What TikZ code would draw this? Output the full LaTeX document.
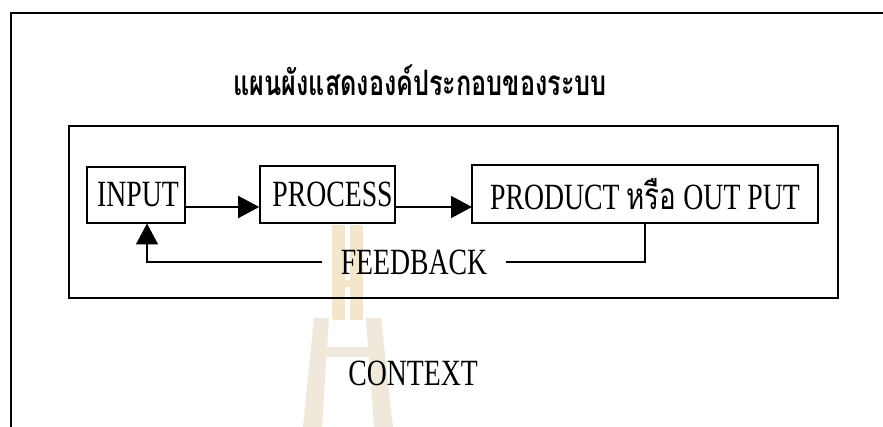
\documentclass[tikz,border=0pt]{standalone}
\usepackage{fontspec}
\setmainfont[FakeStretch=0.75]{Liberation Serif}
\newfontfamily\thaifont[Script=Thai,FakeStretch=0.75]{Loma}
\newfontfamily\thaititle[Script=Thai,FakeStretch=0.72]{Loma}
\usetikzlibrary{arrows.meta}
\definecolor{wmA}{HTML}{F4E6CA}
\definecolor{wmB}{HTML}{F0E8DA}
\begin{document}
\begin{tikzpicture}[x=1pt,y=-1pt,
  frameline/.style={line width=1.8pt},
  boxnode/.style={draw,line width=1.6pt,inner sep=0pt,font=\fontsize{37}{40}\selectfont},
  lbl/.style={font=\fontsize{37}{40}\selectfont,inner sep=0pt},
  flow/.style={line width=1.6pt,-{Triangle[length=21pt,width=22pt]}},
  fbline/.style={line width=1.6pt}]
\useasboundingbox (0,0) rectangle (883,427);
% watermark
\fill[wmA] (332,225) rectangle (345,320);
\fill[wmA] (350,225) rectangle (363,320);
\fill[wmA] (345,280) rectangle (350,287);
\fill[wmB] (314,318) -- (329,318) -- (322,427) -- (303,427) -- cycle;
\fill[wmB] (366,318) -- (381,318) -- (393,427) -- (374,427) -- cycle;
\fill[wmB] (325,347) rectangle (372,357);
% outer frame
\coordinate (ftl) at (11,13);
\coordinate (fbl) at (11,427);
\coordinate (ftr) at (883,13);
\draw[frameline] (fbl) -- (ftl) -- (ftr);
% inner box
\node[draw,line width=1.8pt,minimum width=769pt,minimum height=172pt,inner sep=0pt] (sys) at (453.5,212) {};
% title
\node[font=\thaititle\bfseries\fontsize{35}{40}\selectfont,inner sep=0pt] (title) at (420,80) {แผนผังแสดงองค์ประกอบของระบบ};
% boxes
\node[boxnode,minimum width=98pt,minimum height=56pt] (input) at (136,195) {\hspace*{4pt}INPUT};
\node[boxnode,minimum width=135pt,minimum height=57pt] (process) at (327.5,194.5) {\hspace*{10pt}PROCESS};
\node[boxnode,minimum width=346pt,minimum height=58pt] (output) at (645,194) {PRODUCT {\thaifont หรือ} OUT PUT};
% arrows
\coordinate (a1) at (185,207);
\coordinate (a2) at (472,207);
\draw[flow] (a1) -- (a1 -| process.west);
\draw[flow] (process.east |- a2) -- (a2);
% feedback
\node[lbl,inner xsep=19pt] (fb) at (414,262) {FEEDBACK};
\coordinate (fbr) at (645,262);
\coordinate (fbl2) at (147,262);
\coordinate (fbt) at (147,223.5);
\draw[fbline] (output.south) -- (fbr) -- (fb.east);
\draw[flow] (fb.west) -- (fbl2) -- (fbt);
% context
\node[lbl] (ctx) at (413,373) {CONTEXT};
\end{tikzpicture}
\end{document}
